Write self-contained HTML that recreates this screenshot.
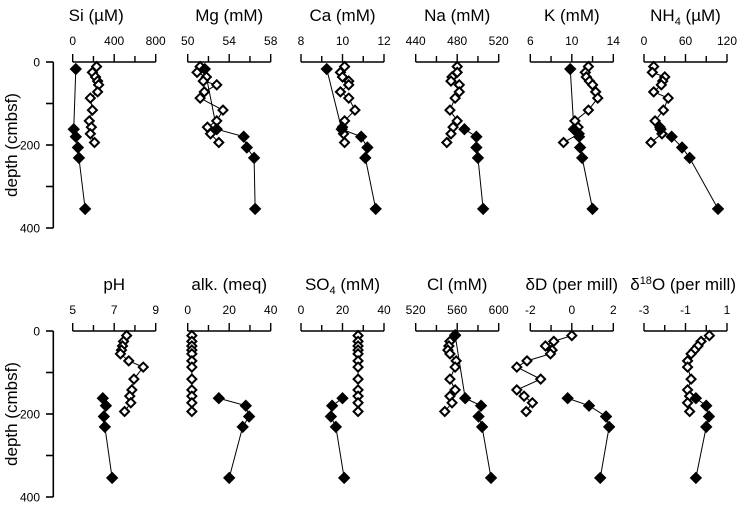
<!DOCTYPE html>
<html><head><meta charset="utf-8">
<style>
html,body{margin:0;padding:0;background:#fff;}
svg{display:block;font-family:"Liberation Sans",Arial,sans-serif;}
</style></head>
<body>
<svg id="chart" width="738" height="505" viewBox="0 0 738 505" xmlns="http://www.w3.org/2000/svg"></svg>
<script>
// ---- data ----
const openDepths = [11,25,36,46,55,72,87,116,142,157,173,194];
const panelTitles = ["Si (µM)","Mg (mM)","Ca (mM)","Na (mM)","K (mM)","NH4 (µM)","pH","alk. (meq)","SO4 (mM)","Cl (mM)","δD (per mill)","δ18O (per mill)"];
const axisMin = [0,50,8,440,6,0,5,0,0,520,-2,-3];
const axisMax = [800,58,12,520,14,120,9,40,40,600,2,1];
const tickLabels = [["0","400","800"],["50","54","58"],["8","10","12"],["440","480","520"],["6","10","14"],["0","60","120"],["5","7","9"],["0","20","40"],["0","20","40"],["520","560","600"],["-2","0","2"],["-3","-1","1"]];
const openSi  = [230,190,220,240,250,240,170,190,160,180,170,210];
const openMg  = [51.2,50.9,51.8,51.5,52.8,51.6,51.2,53.4,52.8,51.9,52.2,53.0];
const openCa  = [10.1,9.9,10.0,10.3,10.3,9.9,10.3,10.6,10.1,10.0,10.05,10.1];
const openNa  = [480,480,475,474,482,482,478,473,480,476,474,470];
const openK   = [11.6,11.3,11.4,11.7,12.0,12.3,12.5,11.6,10.3,10.6,10.7,9.2];
const openNH4 = [14,12,30,27,25,14,35,28,16,23,26,10];
const openPH  = [7.6,7.45,7.4,7.35,7.3,7.7,8.4,7.95,7.85,7.75,7.8,7.5];
const openAlk = [2,2,2,2,2,2,2,2,2,2,2,2];
const openSO4 = [27.5,27.5,27.5,27.5,27.5,27.5,27.5,27.5,27.5,27.5,27.5,27.5];
const openCl  = [558,553,552,551,553,559,558,553,558,553,555,548];
const openDD  = [0,-0.87,-1.27,-0.95,-1.03,-2.16,-2.65,-1.5,-2.65,-2.3,-1.9,-2.2];
const openO18 = [0.15,-0.25,-0.4,-0.57,-0.73,-0.9,-0.9,-0.73,-0.9,-0.8,-0.9,-0.8];
const filledDepthsTop = [17,162,180,206,231,354];
const filledDepths = [162,180,206,231,354];
const filledSi  = [30,10,30,50,60,120];
const filledMg  = [51.65,52.8,55.4,55.7,56.4,56.5];
const filledCa  = [9.24,9.96,10.9,11.2,11.1,11.6];
const filledNa  = [487,498.5,498.5,500,505];
const filledK   = [9.85,10.2,10.7,10.8,11.0,12.0];
const filledNH4 = [24,40,55,66,107];
const filledPH  = [6.45,6.6,6.5,6.55,6.9];
const filledAlk = [15,28,29.6,26.5,20];
const filledSO4 = [20,15,14.4,16.8,20.8];
const filledClDepths = [10,162,180,206,231,354];
const filledCl  = [558,567.7,583,580.6,584,592.6];
const filledDD  = [-0.2,0.83,1.65,1.8,1.37];
const filledO18 = [-0.5,0,0.13,0,-0.5];
const depthTicks = [0,100,200,300,400];
const depthLabels = ["0","200","400"];

const openSeries = [openSi,openMg,openCa,openNa,openK,openNH4,openPH,openAlk,openSO4,openCl,openDD,openO18];
const filledSeries = [filledSi,filledMg,filledCa,filledNa,filledK,filledNH4,filledPH,filledAlk,filledSO4,filledCl,filledDD,filledO18];
const filledDepthSets = [filledDepthsTop,filledDepthsTop,filledDepthsTop,filledDepths,filledDepthsTop,filledDepths,filledDepths,filledDepths,filledDepths,filledClDepths,filledDepths,filledDepths];

// ---- layout ----
const NS="http://www.w3.org/2000/svg";
const svg=document.getElementById('chart');
const panelLeft=[72.7,187.7,301,415.7,530.3,644];
const panelW=83;
const rowTop=[62,331];
const depthScale=166/400;
function yScale(row,d){return rowTop[row]+d*depthScale;}
function xScale(i,v){const c=i%6;return panelLeft[c]+(v-axisMin[i])/(axisMax[i]-axisMin[i])*panelW;}
function mk(tag,attrs,parent){const e=document.createElementNS(NS,tag);for(const k in attrs)e.setAttribute(k,attrs[k]);(parent||svg).appendChild(e);return e;}
function diamond(x,y,r){return `M${x},${y-r}L${x+r},${y}L${x},${y+r}L${x-r},${y}Z`;}

for(let row=0;row<2;row++){
  const g=mk('g',{});
  
  
  const y0=yScale(row,0), y1=yScale(row,400);
  mk('line',{x1:53.3,y1:y0,x2:53.3,y2:y1,stroke:'#000','stroke-width':1.6},g);
  depthTicks.forEach((d,k)=>{
    const y=yScale(row,d);
    mk('line',{x1:46,y1:y,x2:53.3,y2:y,stroke:'#000','stroke-width':1.6},g);
    if(k%2===0){
      const t=mk('text',{x:40,y:y+4.5,'text-anchor':'end','font-size':12},g);
      t.textContent=depthLabels[k/2];
    }
  });
  const yc=(y0+y1)/2;
  const tt=mk('text',{x:17,y:yc,'text-anchor':'middle','font-size':17,transform:`rotate(-90 17 ${yc})`},g);
  
  
  tt.textContent='depth (cmbsf)';
}

for(let i=0;i<12;i++){
  const row=i<6?0:1, c=i%6;
  const g=mk('g',{});
  
  
  const ay=rowTop[row];
  const L=panelLeft[c];
  // title
  let cx=L+panelW/2-(i===0?18:0);
  let anchor='middle';
  if(i===11){cx=736;anchor='end';}
  const tt=mk('text',{x:cx,y:ay-41,'text-anchor':anchor,'font-size':17},g);
  
  
  const title=panelTitles[i];
  if(title.startsWith('NH4')){tt.innerHTML='NH<tspan font-size="11" dy="4">4</tspan><tspan dy="-4"> (µM)</tspan>';}
  else if(title.startsWith('SO4')){tt.innerHTML='SO<tspan font-size="11" dy="4">4</tspan><tspan dy="-4"> (mM)</tspan>';}
  else if(title.startsWith('δ18O')){tt.innerHTML='δ<tspan font-size="11" dy="-6">18</tspan><tspan dy="6">O (per mill)</tspan>';}
  else tt.textContent=title;
  // axis
  mk('line',{x1:L,y1:ay,x2:L+panelW,y2:ay,stroke:'#000','stroke-width':1.6},g);
  for(let k=0;k<5;k++){
    const x=L+k*panelW/4;
    mk('line',{x1:x,y1:ay,x2:x,y2:ay-(k%2===0?8:6),stroke:'#000','stroke-width':1.4},g);
    if(k%2===0){
      const t=mk('text',{x:x,y:ay-17,'text-anchor':'middle','font-size':12},g);
      t.textContent=tickLabels[i][k/2];
    }
  }
  // lines
  const op=openSeries[i].map((v,k)=>[xScale(i,v),yScale(row,openDepths[k])]);
  const fp=filledSeries[i].map((v,k)=>[xScale(i,v),yScale(row,filledDepthSets[i][k])]);
  const l1=mk('polyline',{points:op.map(p=>p.join(',')).join(' '),fill:'none',stroke:'#000','stroke-width':1},g);
  
  
  const l2=mk('polyline',{points:fp.map(p=>p.join(',')).join(' '),fill:'none',stroke:'#000','stroke-width':1},g);
  
  
  op.forEach(p=>{
    const d=mk('path',{d:diamond(p[0],p[1],4.5),fill:'#fff',stroke:'#000','stroke-width':2},g);
    
    
  });
  fp.forEach(p=>{
    const d=mk('path',{d:diamond(p[0],p[1],5.5),fill:'#000',stroke:'#000','stroke-width':1},g);
    
    
  });
}
</script>
</body></html>
